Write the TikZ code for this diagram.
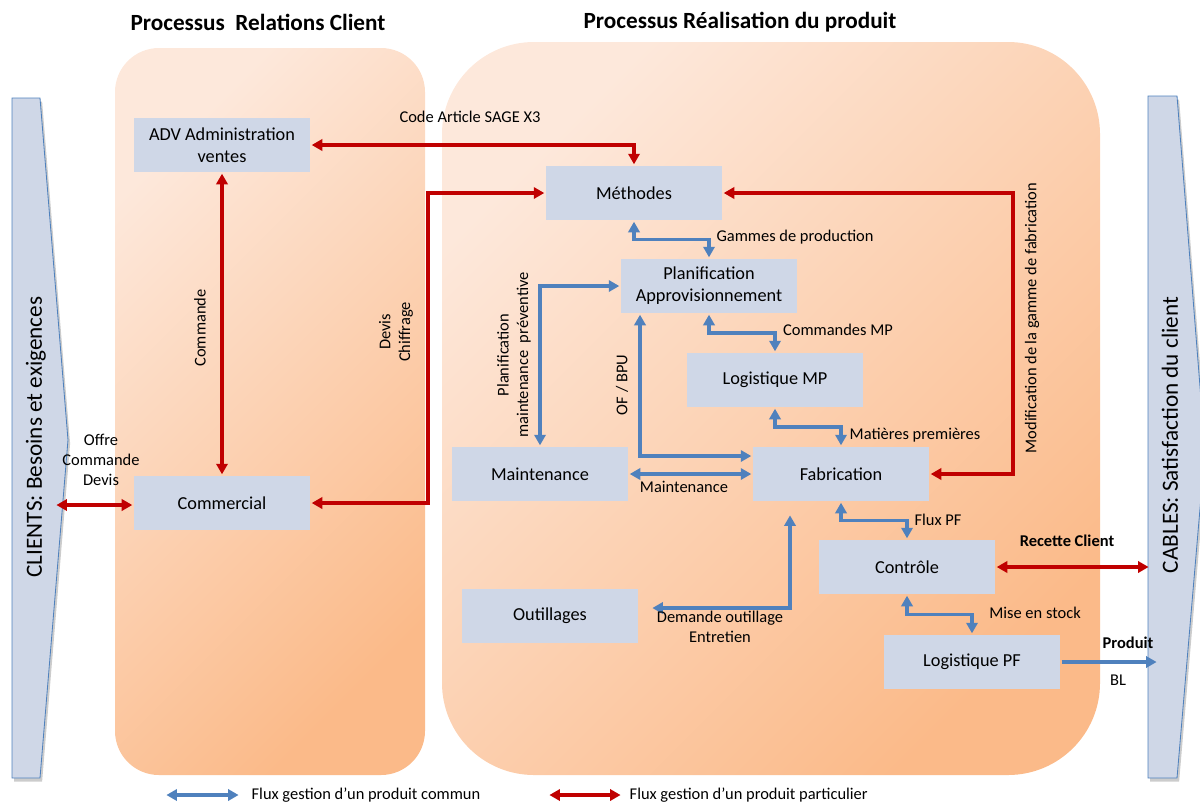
\documentclass[tikz,border=0pt]{standalone}
\usepackage{fontspec}
\setmainfont{Carlito}
\usetikzlibrary{arrows.meta,calc}

\definecolor{boxfill}{RGB}{207,215,231}
\definecolor{flowblue}{RGB}{79,129,189}
\definecolor{flowred}{RGB}{192,0,0}
\definecolor{peachL}{RGB}{253,232,219}
\definecolor{peachD}{RGB}{251,186,137}

\tikzset{
  box/.style={fill=boxfill, minimum width=4.4cm, minimum height=1.35cm, align=center, font=\fontsize{13}{15.6}\selectfont},
  lab/.style={font=\fontsize{11.7}{14}\selectfont, align=center, inner sep=1pt},
  blab/.style={lab, font=\fontsize{11.7}{14}\selectfont\bfseries},
  redflow/.style={draw=flowred, line width=2.3pt, <->},
  blueflow/.style={draw=flowblue, line width=2.3pt, <->},
  panel/.style={top color=peachL, bottom color=peachD, shading angle=45},
  chevron/.style={draw=flowblue, fill=boxfill, line width=0.6pt}
}

\begin{document}
\begin{tikzpicture}[x=0.025cm, y=-0.025cm, >={Triangle[length=7.5pt,width=8pt]}, shorten <=1pt, shorten >=1pt]

        \useasboundingbox (0,0) rectangle (1200,805);

        %===========================
        % Process panels
        %===========================

        \shade[panel, rounded corners=1.1cm] (115,48) rectangle (425,775);
        \shade[panel, rounded corners=2.3cm] (442,42) rectangle (1100,775);
        \node (t1) at (258,22) [font=\fontsize{16.5}{18}\selectfont\bfseries] {Processus\ \ Relations Client};
        \node (t2) at (740,22) [font=\fontsize{16.5}{18}\selectfont\bfseries] {Processus Réalisation du produit};

        %===========================
        % Clients / Cables
        %===========================

        \fill[black, opacity=0.2, xshift=1.5pt, yshift=-2.5pt] (12,98) -- (40,98) -- (68,440) -- (40,778) -- (12,778) -- cycle;
        \draw[chevron] (12,98) -- (40,98) -- (68,440) -- (40,778) -- (12,778) -- cycle;
        \node (cli) at (36,437) [rotate=90, font=\fontsize{16.5}{18}\selectfont] {CLIENTS: Besoins et exigences};

        \fill[black, opacity=0.2, xshift=1.5pt, yshift=-2.5pt] (1148,96) -- (1177,96) -- (1205,450) -- (1177,778) -- (1148,778) -- cycle;
        \draw[chevron] (1148,96) -- (1177,96) -- (1205,450) -- (1177,778) -- (1148,778) -- cycle;
        \node (cab) at (1170,435) [rotate=90, font=\fontsize{16.5}{18}\selectfont] {CABLES: Satisfaction du client};

        %===========================
        % Services
        %===========================

        \node (adv) at (222,145) [box] {ADV Administration\\ventes};
        \node (com) at (222,503) [box] {Commercial};
        \node (meth) at (634,193) [box] {Méthodes};
        \node (plan) at (709,286) [box] {Planification\\Approvisionnement};
        \node (logmp) at (775,380) [box] {Logistique MP};
        \node (maint) at (540,474) [box] {Maintenance};
        \node (fab) at (841,474) [box] {Fabrication};
        \node (ctrl) at (907,567) [box] {Contrôle};
        \node (outil) at (550,616) [box] {Outillages};
        \node (logpf) at (972,662) [box] {Logistique PF};

        %===========================
        % Flux particulier (red)
        %===========================

        \coordinate (cliR) at (55,505);
        \coordinate (dvc) at (428,330);
        \coordinate (mdc) at (1013,330);
        \coordinate (cabR) at (1150,565);

        \draw[redflow] (cliR) -- (com.west |- cliR);
        \draw[redflow] (adv) -- (com);
        \draw[redflow] (adv) -| (meth);
        \draw[redflow] (com) -| (dvc) |- (meth);
        \draw[redflow] (meth) -| (mdc) |- (fab);
        \draw[redflow] (ctrl) -- (ctrl -| cabR);

        \node (loff) at (101,460) [lab] {Offre\\Commande\\Devis};
        \node (lcmd) at (200,328) [lab, rotate=90] {Commande};
        \node (ldev) at (396,332) [lab, rotate=90] {Devis\\Chiffrage};
        \node (lcode) at (470,117) [lab] {Code Article SAGE X3};
        \node (lmod) at (1032,318) [lab, rotate=90] {Modification de la gamme de fabrication};
        \node (lrec) at (1067,541) [blab] {Recette Client};

        %===========================
        % Flux commun (blue)
        %===========================

        \coordinate (ofb) at (640,456);
        \coordinate (dmo) at (790,608);
        \coordinate (cabP) at (1158,662);

        \draw[blueflow] (meth) |- ($(meth.south)!.5!(plan.north)$) -| (plan);
        \draw[blueflow] (plan) |- ($(plan.south)!.5!(logmp.north)$) -| (logmp);
        \draw[blueflow] (logmp) |- ($(logmp.south)!.5!(fab.north)$) -| (fab);
        \draw[blueflow] (fab) |- ($(fab.south)!.5!(ctrl.north)$) -| (ctrl);
        \draw[blueflow] (ctrl) |- ($(ctrl.south)!.5!(logpf.north)$) -| (logpf);
        \draw[blueflow] (plan) -| (maint);
        \draw[blueflow] (plan.south -| ofb) |- (fab.west |- ofb);
        \draw[blueflow] (maint) -- (fab);
        \draw[blueflow, shorten <=10pt, shorten >=10pt] (fab.south -| dmo) |- (outil.east |- dmo);
        \draw[blueflow, ->] (logpf) -- (cabP);

        \node (lgam) at (795,237) [lab] {Gammes de production};
        \node (lcmp) at (838,330) [lab] {Commandes MP};
        \node (lmat) at (915,435) [lab] {Matières premières};
        \node (lpmp) at (514,355) [lab, rotate=90] {Planification\\maintenance\ \ préventive};
        \node (lof) at (622,385) [lab, rotate=90] {OF / BPU};
        \node (lmnt) at (684,487) [lab] {Maintenance};
        \node (lflx) at (938,520) [lab] {Flux PF};
        \node (ldem) at (720,627) [lab] {Demande outillage\\Entretien};
        \node (lmis) at (1035,613) [lab] {Mise en stock};
        \node (lprd) at (1128,643) [blab] {Produit};
        \node (lbl) at (1118,680) [lab] {BL};

        %===========================
        % Legend
        %===========================

        \coordinate (lgb1) at (165,795);
        \coordinate (lgb2) at (240,795);
        \coordinate (lgr1) at (548,795);
        \coordinate (lgr2) at (622,795);
        \draw[blueflow] (lgb1) -- (lgb2);
        \draw[redflow] (lgr1) -- (lgr2);
        \node (lgbt) at (250,795) [lab, anchor=west] {Flux gestion d’un produit commun};
        \node (lgrt) at (628,795) [lab, anchor=west] {Flux gestion d’un produit particulier};

\end{tikzpicture}
\end{document}
